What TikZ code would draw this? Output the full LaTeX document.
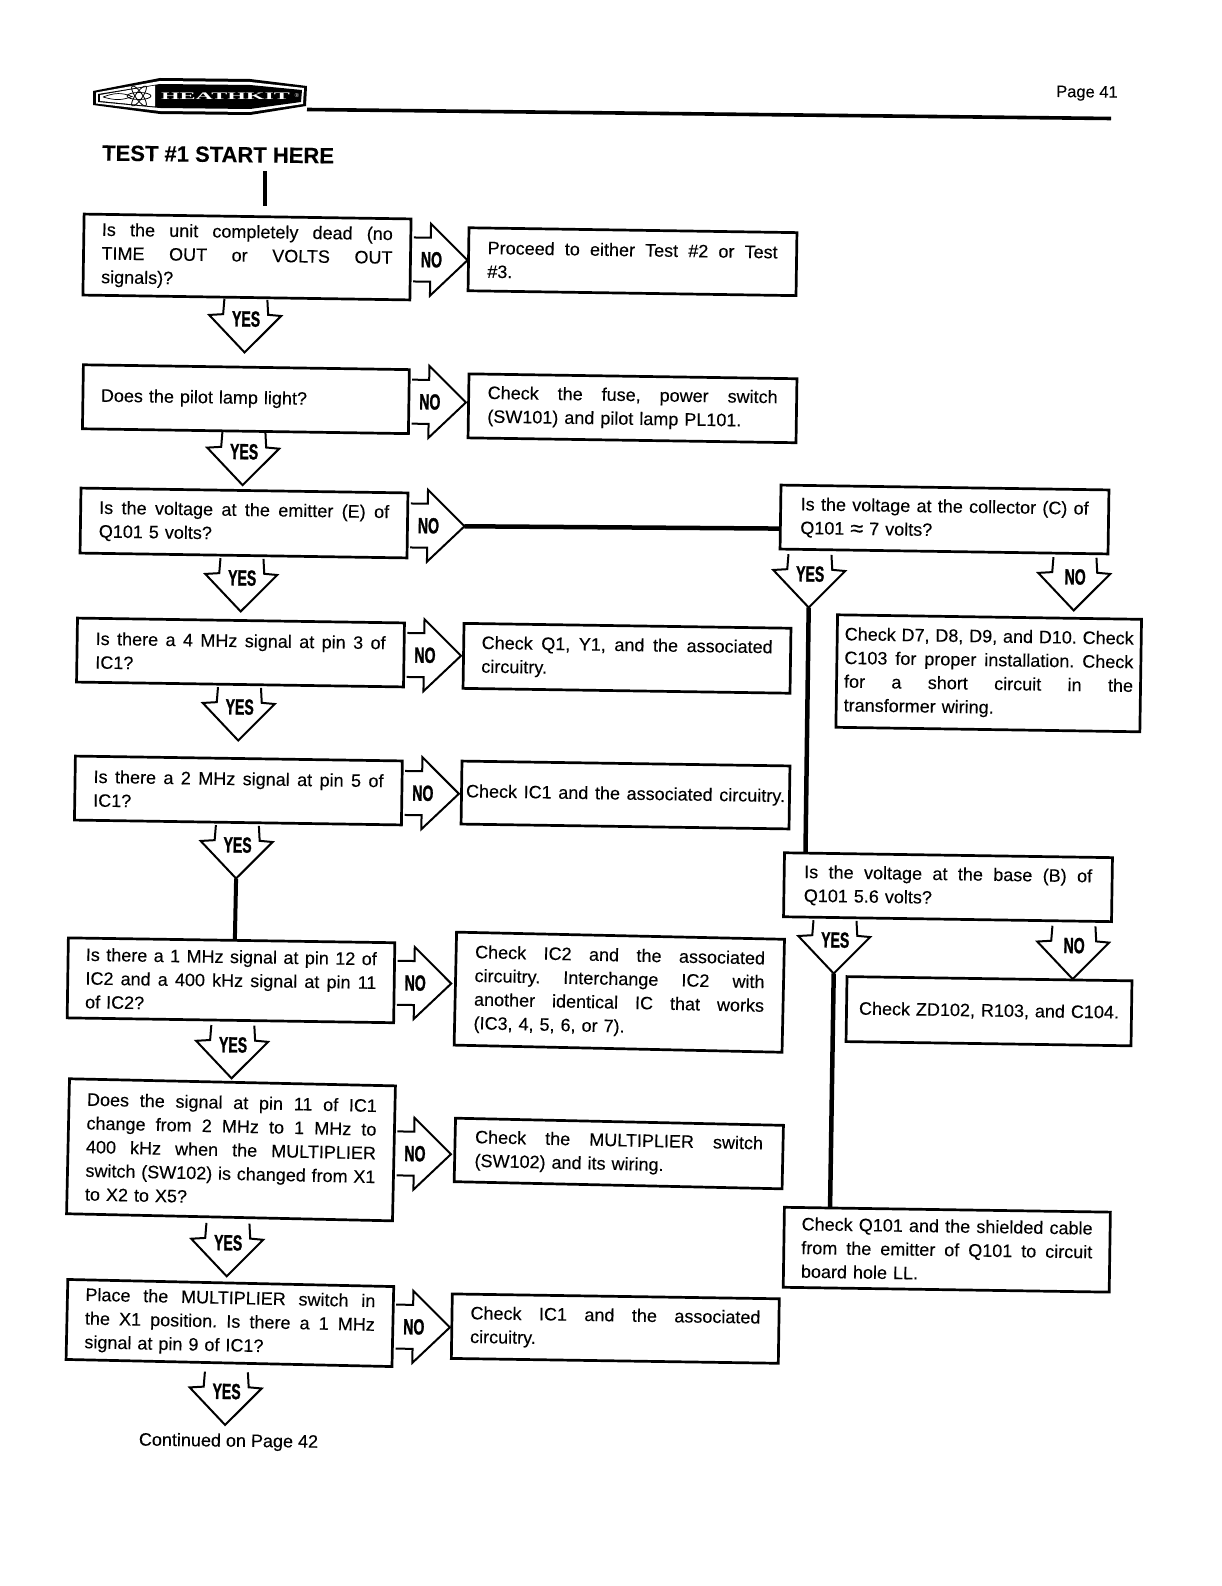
\documentclass[tikz,border=0pt]{standalone}
\usepackage{fontspec}
\usepackage{graphicx}
\usetikzlibrary{calc}
\setmainfont[FakeBold=0.2]{Liberation Sans}
\newfontfamily\logofont{Liberation Serif}
\newfontfamily\armfont[BoldFeatures={FakeBold=1.2,FakeStretch=0.64}]{Liberation Sans}
\newcommand\jl[1]{\makebox[\hsize][s]{\frenchspacing\spaceskip=0pt \xspaceskip=0pt #1}}
\tikzset{
  flowbox/.style={draw=black,line width=2.7pt,fill=white,rectangle,inner sep=0pt,outer sep=0pt,
    rotate=-0.85,align=left,font=\fontsize{18}{23.7}\selectfont,text=black},
  blockline/.style={draw=black,line width=2pt,line join=miter},
  heavyline/.style={draw=black,line width=4.5pt},
  armlabel/.style={inner sep=0pt,transform shape,font=\armfont\bfseries\fontsize{22}{22}\selectfont},
  pagetext/.style={inner sep=0pt,rotate=-0.7,text=black},
}
\newcommand\noarr[2]{%
  \begin{scope}[shift={(#1.east)},rotate=-0.85]
    \draw[blockline] (3,-22) -- (20,-22) -- (20,-36) -- (57,0) -- (20,36) -- (20,22) -- (3,22);
    \node[armlabel] (#2l) at (21,0) {NO};
    \coordinate (#2) at (57,0);
  \end{scope}}
% source, offset along the box, name, label, offset below the box
\newcommand\downarr[5]{%
  \begin{scope}[shift={(#1.south)},rotate=-0.85,xshift=2pt,yshift=-#5pt]
    \draw[blockline] (#2-21,2) -- (#2-22,17) -- (#2-36,18) -- (#2,55) -- (#2+36,18) -- (#2+23,17) -- (#2+22,2);
    \node[armlabel] (#3l) at (#2+1,21.5) {#4};
    \coordinate (#3) at (#2,55);
  \end{scope}}
\begin{document}
\begin{tikzpicture}[x=1pt,y=-1pt]
\fill[white] (0,0) rectangle (1221,1586);
\useasboundingbox (0,0) rectangle (1221,1586);

% logo
\fill[black] (93,91) -- (160,78) -- (250,79) -- (307,86) -- (306,106) -- (250,115) -- (160,114) -- (93,105) -- cycle;
\fill[white] (96,92.5) -- (160,81) -- (250,82) -- (304,88) -- (303,104) -- (250,112) -- (160,111) -- (96,103.5) -- cycle;
\fill[black] (98,94) -- (160,84) -- (250,85) -- (302,90) -- (301,102) -- (250,109) -- (160,108) -- (98,102) -- cycle;
\fill[white] (100,95) -- (155,85.5) -- (155,106.5) -- (100,101) -- cycle;
\draw[black,line width=.7pt] (103,97) .. controls (115,92.5) and (122,92.5) .. (132,96.5) .. controls (122,100.5) and (115,100.5) .. (103,97);
\draw[black,line width=.8pt] (139,96) ellipse (12pt and 3.5pt);
\draw[black,line width=.8pt,rotate around={55:(139,96)}] (139,96) ellipse (12pt and 3.5pt);
\draw[black,line width=.8pt,rotate around={-55:(139,96)}] (139,96) ellipse (12pt and 3.5pt);
\node[inner sep=0pt,text=white,font=\logofont\bfseries\fontsize{10}{10}\selectfont] (logo) at (225.5,96.5) {\scalebox{2.4}[1]{HEATHKIT}};
\node[inner sep=0pt,text=white,font=\logofont\fontsize{6}{6}\selectfont] (reg) at (297,95.5) {®};
\coordinate (logoend) at (307,109.5);
\coordinate (ruleend) at (1111,118.5);
\draw[black,line width=3.6pt] (logoend) -- (ruleend);

\node[pagetext,anchor=west,font=\fontsize{16.5}{20}\selectfont] (page) at (1056,93) {Page 41};
\node[pagetext,anchor=west,font=\fontsize{22}{24}\selectfont\bfseries] (title) at (102,153) {TEST \#1 START HERE};
\coordinate (start1) at (264.7,171.5);
\coordinate (start2) at (264.7,206);
\draw[black,line width=4pt] (start1) -- (start2);

% left column
\node[flowbox,minimum width=327pt,minimum height=81pt,text width=291pt] (b1) at (247,257) {\jl{Is the unit completely dead (no}\\\jl{TIME OUT or VOLTS OUT}\\signals)?};
\node[flowbox,minimum width=326pt,minimum height=64pt,text width=290pt] (b2) at (245.9,399.2) {Does the pilot lamp light?};
\node[flowbox,minimum width=327pt,minimum height=65pt,text width=290pt] (b3) at (244,523) {\jl{Is the voltage at the emitter (E) of}\\Q101 5 volts?};
\node[flowbox,minimum width=327pt,minimum height=64pt,text width=290pt] (b4) at (240.5,652.5) {\jl{Is there a 4 MHz signal at pin 3 of}\\IC1?};
\node[flowbox,minimum width=327pt,minimum height=64pt,text width=290pt] (b5) at (238.4,790.5) {\jl{Is there a 2 MHz signal at pin 5 of}\\IC1?};
\node[flowbox,minimum width=326.5pt,minimum height=80pt,text width=291pt] (b6) at (231,980.3) {\jl{Is there a 1 MHz signal at pin 12 of}\\\jl{IC2 and a 400 kHz signal at pin 11}\\of IC2?};
\node[flowbox,rotate=-0.4,minimum width=326pt,minimum height=135pt,text width=290pt] (b7) at (231,1149.8) {\jl{Does the signal at pin 11 of IC1}\\\jl{change from 2 MHz to 1 MHz to}\\\jl{400 kHz when the MULTIPLIER}\\\jl{switch (SW102) is changed from X1}\\to X2 to X5?};
\node[flowbox,rotate=-0.4,minimum width=326pt,minimum height=80pt,text width=290pt] (b8) at (229.9,1323) {\jl{Place the MULTIPLIER switch in}\\\jl{the X1 position. Is there a 1 MHz}\\signal at pin 9 of IC1?};

% middle column
\node[flowbox,minimum width=328pt,minimum height=63pt,text width=290pt] (m1) at (632.5,261.7) {\jl{Proceed to either Test \#2 or Test}\\\#3.};
\node[flowbox,minimum width=328pt,minimum height=64pt,text width=290pt] (m2) at (632.5,408.3) {\jl{Check the fuse, power switch}\\(SW101) and pilot lamp PL101.};
\node[flowbox,minimum width=327pt,minimum height=65pt,text width=291pt] (m4) at (627,658.3) {\jl{Check Q1, Y1, and the associated}\\circuitry.};
\node[flowbox,minimum width=328pt,minimum height=63pt,text width=319pt] (m5) at (625.5,795) {\jl{Check IC1 and the associated circuitry.}};
\node[flowbox,rotate=-0.4,minimum width=328pt,minimum height=113pt,text width=290pt] (m6) at (619.3,992.2) {\jl{Check IC2 and the associated}\\\jl{circuitry. Interchange IC2 with}\\\jl{another identical IC that works}\\(IC3, 4, 5, 6, or 7).};
\node[flowbox,rotate=-0.4,minimum width=328pt,minimum height=63.5pt,text width=288pt] (m7) at (618.8,1153.5) {\jl{Check the MULTIPLIER switch}\\(SW102) and its wiring.};
\node[flowbox,minimum width=327pt,minimum height=64.5pt,text width=290pt] (m8) at (615.3,1328.6) {\jl{Check IC1 and the associated}\\circuitry.};

% right column
\node[flowbox,minimum width=328pt,minimum height=64pt,text width=288pt] (rc) at (944.5,519.5) {\jl{Is the voltage at the collector (C) of}\\Q101 \raisebox{-1.5pt}{\scalebox{1.3}{≈}} 7 volts?};
\node[flowbox,minimum width=304pt,minimum height=112.5pt,text width=289pt] (rd) at (988.7,673.3) {\jl{Check D7, D8, D9, and D10. Check}\\\jl{C103 for proper installation. Check}\\\jl{for a short circuit in the}\\transformer wiring.};
\node[flowbox,minimum width=328pt,minimum height=64pt,text width=288pt] (rb) at (948,887.2) {\jl{Is the voltage at the base (B) of}\\Q101 5.6 volts?};
\node[flowbox,minimum width=285pt,minimum height=65pt,text width=260pt] (rz) at (989,1011.2) {\jl{Check ZD102, R103, and C104.}};
\node[flowbox,minimum width=326pt,minimum height=80pt,text width=291pt] (rq) at (946.8,1249.7) {\jl{Check Q101 and the shielded cable}\\\jl{from the emitter of Q101 to circuit}\\board hole LL.};

% NO arrows
\noarr{b1}{n1}\noarr{b2}{n2}\noarr{b3}{n3}\noarr{b4}{n4}\noarr{b5}{n5}\noarr{b6}{n6}\noarr{b7}{n7}\noarr{b8}{n8}
% YES arrows
\downarr{b1}{-3}{y1}{YES}{0}\downarr{b2}{-4}{y2}{YES}{-1}\downarr{b3}{-4}{y3}{YES}{1}\downarr{b4}{-3}{y4}{YES}{1}
\downarr{b5}{-3}{y5}{YES}{1}\downarr{b6}{0}{y6}{YES}{3}\downarr{b7}{-4}{y7}{YES}{4}\downarr{b8}{-5}{y8}{YES}{7}
\downarr{rc}{-136.5}{ryc}{YES}{3}\downarr{rc}{128.5}{rnc}{NO}{2}
\downarr{rb}{-115}{ryb}{YES}{1}\downarr{rb}{124}{rnb}{NO}{3}

% connectors
\draw[heavyline] (n3) -- ($(rc.north west)!.68!(rc.south west)$);
\draw[heavyline] (ryc) -- ($(rb.north west)!.064!(rb.north east)$);
\draw[heavyline] (ryb) -- ($(rq.north west)!.14!(rq.north east)$);
\draw[black,line width=4pt] (y5) -- ($(b6.north west)!.51!(b6.north east)$);

\node[pagetext,font=\fontsize{18}{20}\selectfont] (cont) at (228.5,1442) {Continued on Page 42};
\end{tikzpicture}
\end{document}
